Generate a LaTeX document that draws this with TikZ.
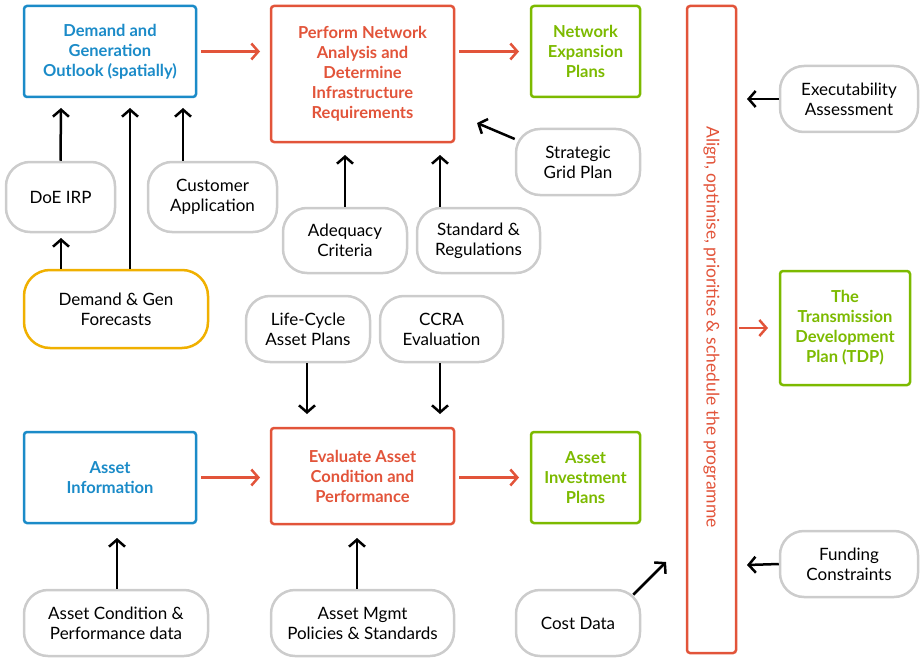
\documentclass[tikz,border=0pt]{standalone}
\usepackage{fontspec}
\setmainfont{Lato}
\usetikzlibrary{arrows.meta}
\definecolor{cblue}{HTML}{1B8BC8}
\definecolor{cred}{HTML}{E2543A}
\definecolor{cgreen}{HTML}{7CBA00}
\definecolor{corange}{HTML}{F0B000}
\definecolor{cgray}{HTML}{CCCCCC}
\tikzset{
  box/.style={draw, line width=2.5pt, rounded corners=3pt, align=center,
    font=\fontsize{16.5}{20}\selectfont\bfseries, inner sep=0pt},
  bluebox/.style={box, draw=cblue, text=cblue},
  redbox/.style={box, draw=cred, text=cred},
  greenbox/.style={box, draw=cgreen, text=cgreen},
  input/.style={draw=cgray, line width=2.5pt, rounded corners=24pt, align=center,
    font=\fontsize{17}{20}\selectfont, inner sep=0pt},
  arr/.style={line width=2.5pt, -{Straight Barb[length=7pt,width=16pt,line width=2.5pt]}},
  redarr/.style={arr, draw=cred},
}
\begin{document}
\begin{tikzpicture}[x=1pt,y=-1pt]
\useasboundingbox (0,0) rectangle (923,658);

% main process boxes
\node[bluebox, minimum width=172pt, minimum height=91pt] (outlook) at (110,51.5) {Demand and\\Generation\\Outlook (spatially)};
\node[redbox, minimum width=183pt, minimum height=136pt] (network) at (362.5,74) {Perform Network\\Analysis and\\Determine\\Infrastructure\\Requirements};
\node[greenbox, minimum width=109pt, minimum height=91pt] (expansion) at (585.5,51.5) {Network\\Expansion\\Plans};
\node[redbox, minimum width=49pt, minimum height=647pt] (align) at (711.5,329.5) {};
\node[text=cred, font=\fontsize{17.5}{20}\selectfont, rotate=-90] (aligntext) at (711.5,327) {Align, optimise, prioritise \& schedule the programme};
\node[greenbox, minimum width=130pt, minimum height=114pt] (tdp) at (845,328) {The\\Transmission\\Development\\Plan (TDP)};
\node[bluebox, minimum width=172pt, minimum height=91pt] (assetinfo) at (110,477.5) {Asset\\Information};
\node[redbox, minimum width=183pt, minimum height=96pt] (evaluate) at (362.5,476) {Evaluate Asset\\Condition and\\Performance};
\node[greenbox, minimum width=109pt, minimum height=91pt] (investment) at (585.5,477.5) {Asset\\Investment\\Plans};

% inputs
\node[input, minimum width=138pt, minimum height=66pt] (exec) at (849,99) {Executability\\Assessment};
\node[input, minimum width=124pt, minimum height=66pt] (strategic) at (578,162) {Strategic\\Grid Plan};
\node[input, minimum width=109pt, minimum height=70pt] (doe) at (60.5,197) {DoE IRP};
\node[input, minimum width=129pt, minimum height=70pt] (customer) at (212.5,197) {Customer\\Application};
\node[input, minimum width=124pt, minimum height=65pt] (adequacy) at (345,240.5) {Adequacy\\Criteria};
\node[input, minimum width=123pt, minimum height=65pt] (standard) at (478.5,240.5) {Standard \&\\Regulations};
\node[input, draw=corange, minimum width=184pt, minimum height=78pt, rounded corners=26pt] (forecasts) at (116,309) {Demand \& Gen\\Forecasts};
\node[input, minimum width=124pt, minimum height=66pt] (lifecycle) at (308,329) {Life-Cycle\\Asset Plans};
\node[input, minimum width=123pt, minimum height=66pt] (ccra) at (441.5,329) {CCRA\\Evaluation};
\node[input, minimum width=138pt, minimum height=66pt] (funding) at (849,564) {Funding\\Constraints};
\node[input, minimum width=184pt, minimum height=66pt] (condition) at (116,623) {Asset Condition \&\\Performance data};
\node[input, minimum width=183pt, minimum height=66pt] (mgmt) at (362.5,623) {Asset Mgmt\\Policies \& Standards};
\node[input, minimum width=124pt, minimum height=66pt] (cost) at (578,623) {Cost Data};

% free ends of the input arrows
\coordinate (execend) at (747,99);
\coordinate (fundend) at (747,565);
\coordinate (stratend) at (477,123);
\coordinate (costend) at (666,562);

% flow between process boxes
\draw[redarr] (outlook.east) ++(4,0) -- (260,51.5);
\draw[redarr] (network.east |- expansion.west) ++(4,0) -- (519,51.5);
\draw[redarr] (assetinfo.east) ++(4,0) -- (260,477.5);
\draw[redarr] (evaluate.east |- investment.west) ++(4,0) -- (519,477.5);
\draw[redarr] (align.east |- tdp.west) ++(2,0) -- (768,328);

% inputs feeding the process boxes
\draw[arr] (doe.north) -- (61,108);
\draw[arr] (customer.north -| 183,0) -- (183,108);
\draw[arr] (forecasts.north -| 130,0) -- (130,108);
\draw[arr] (forecasts.north -| 61,0) -- (61,238);
\draw[arr] (adequacy.north) -- (345,155);
\draw[arr] (standard.north -| 440,0) -- (440,155);
\draw[arr] (strategic.160) -- (stratend);
\draw[arr] (lifecycle.south -| 307,0) -- (307,414);
\draw[arr] (ccra.south -| 440,0) -- (440,414);
\draw[arr] (condition.north -| 117,0) -- (117,538);
\draw[arr] (mgmt.north -| 357,0) -- (357,538);
\draw[arr] (cost.north east) ++(-8,6) -- (costend);
\draw[arr] (exec.west) -- (execend);
\draw[arr] (funding.west) -- (fundend);
\end{tikzpicture}
\end{document}
